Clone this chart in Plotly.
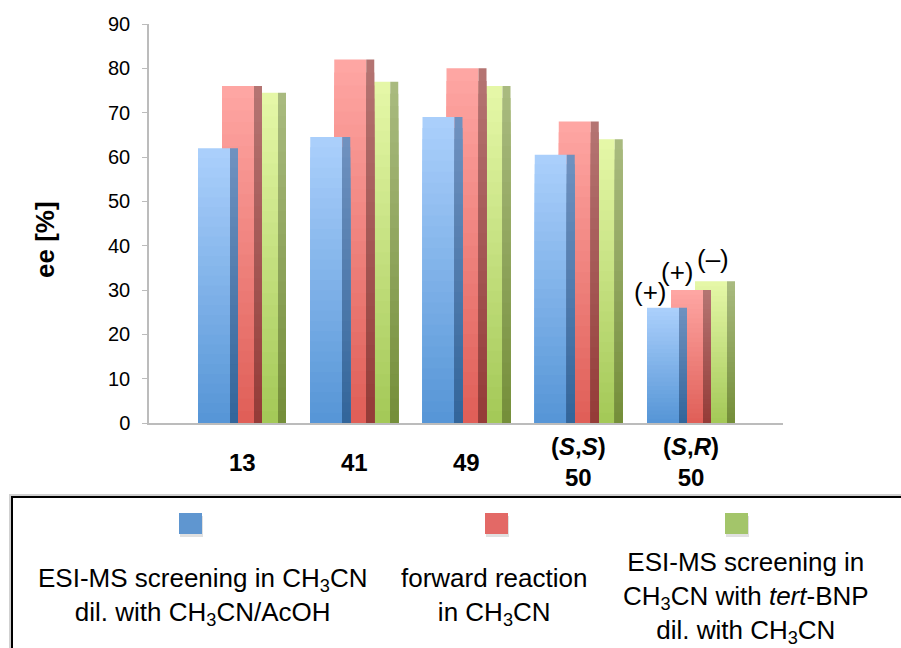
import plotly.graph_objects as go

# --- data -------------------------------------------------------------
categories = ["13", "41", "49", "(S,S) 50", "(S,R) 50"]
category_labels = [
    "<b>13</b>",
    "<b>41</b>",
    "<b>49</b>",
    "<b>(<i>S</i>,<i>S</i>)</b><br><b>50</b>",
    "<b>(<i>S</i>,<i>R</i>)</b><br><b>50</b>",
]
esi_acoh = [62, 64.5, 69, 60.5, 26]
forward = [76, 82, 80, 68, 30]
esi_bnp = [74.5, 77, 76, 64, 32]
sign_labels = ["(+)", "(+)", "(–)"]

series_names = [
    "ESI-MS screening in CH<sub>3</sub>CN<br>dil. with CH<sub>3</sub>CN/AcOH",
    "forward reaction<br>in CH<sub>3</sub>CN",
    "ESI-MS screening in<br>CH<sub>3</sub>CN with <i>tert</i>-BNP<br>dil. with CH<sub>3</sub>CN",
]
series_values = [esi_acoh, forward, esi_bnp]

# --- styling ----------------------------------------------------------
W, H = 901, 648
L, R, T, B = 149, 118, 24, 225
PX_PER_CAT = 112.25          # pixels between category centres
FONT = "Liberation Sans, Arial, sans-serif"

# (front top, front bottom, side top, side bottom)
face_colors = [
    ("#acd0fc", "#5595d6", "#7092c0", "#32659a"),
    ("#ffa7a4", "#df5e57", "#b57573", "#943b37"),
    ("#e6f8a8", "#a3c857", "#aabb80", "#748e39"),
]
legend_colors = ["#5f96d0", "#e36966", "#a3c56a"]
front_px, side_px = 32, 8
series_left_px = [-44, -20, 4]   # left edge of each front face relative to centre
N_STEPS = 28


def hex2rgb(h):
    h = h.lstrip("#")
    return [int(h[i:i + 2], 16) for i in (0, 2, 4)]


def lerp(c1, c2, t):
    a, b = hex2rgb(c1), hex2rgb(c2)
    return "rgb({},{},{})".format(*[round(a[i] + (b[i] - a[i]) * t) for i in range(3)])


def px2x(px):
    return (px - L) / (W - L - R)


def py2y(py):
    return (H - B - py) / (H - T - B)


x_idx = list(range(len(categories)))
fig = go.Figure()

# draw back-to-front: green, red, blue; each face as stacked gradient bands
for s in (2, 1, 0):
    vals = series_values[s]
    ftop, fbot, stop, sbot = face_colors[s]
    faces = [
        (series_left_px[s], front_px, ftop, fbot),
        (series_left_px[s] + front_px, side_px, stop, sbot),
    ]
    for left, width, ctop, cbot in faces:
        for k in range(N_STEPS):
            frac = 1 - k / N_STEPS
            fig.add_trace(go.Bar(
                x=x_idx,
                y=[v * frac for v in vals],
                offset=left / PX_PER_CAT,
                width=width / PX_PER_CAT,
                marker=dict(color=lerp(ctop, cbot, (k + 0.5) / N_STEPS), line=dict(width=0)),
                showlegend=False,
                hoverinfo="skip",
            ))

annotations = []

# category labels under the axis
for i, lab in enumerate(category_labels):
    annotations.append(dict(
        x=i, y=py2y(462), xref="x", yref="paper", text=lab, showarrow=False,
        xanchor="center", yanchor="middle", align="center",
        font=dict(family=FONT, size=24, color="black"),
    ))

# sign of the ee for the (S,R) diastereomer
last = len(categories) - 1
sign_xshift = [-13, -10, 2]
sign_yshift = [0, 2, 6]
for s, txt in enumerate(sign_labels):
    cx = last + (series_left_px[s] + front_px / 2) / PX_PER_CAT
    annotations.append(dict(
        x=cx, y=series_values[s][last], xref="x", yref="y", text=txt, showarrow=False,
        xanchor="center", yanchor="bottom", xshift=sign_xshift[s], yshift=sign_yshift[s],
        borderpad=0, font=dict(family=FONT, size=26, color="black"),
    ))

# y-axis title
annotations.append(dict(
    x=px2x(45), y=py2y(240), xref="paper", yref="paper", text="<b>ee [%]</b>",
    showarrow=False, textangle=-90, xanchor="center", yanchor="middle",
    font=dict(family=FONT, size=26, color="black"),
))

# legend block
shapes = [
    dict(type="rect", xref="paper", yref="paper",
         x0=px2x(10), x1=px2x(910), y0=py2y(495), y1=py2y(660),
         line=dict(color="rgba(0,0,0,0.18)", width=2), fillcolor="rgba(0,0,0,0)"),
    dict(type="rect", xref="paper", yref="paper",
         x0=px2x(12), x1=px2x(910), y0=py2y(497), y1=py2y(660),
         line=dict(color="black", width=2), fillcolor="rgba(0,0,0,0)"),
]
square_px = [179, 485, 725]
text_cx = [202, 494, 746]
text_cy = [596, 596, 597]
for s in range(3):
    x0 = square_px[s]
    shapes.append(dict(type="rect", xref="paper", yref="paper",
                       x0=px2x(x0 + 1), x1=px2x(x0 + 24), y0=py2y(516), y1=py2y(537),
                       line=dict(width=0), fillcolor="rgba(0,0,0,0.12)"))
    shapes.append(dict(type="rect", xref="paper", yref="paper",
                       x0=px2x(x0), x1=px2x(x0 + 23), y0=py2y(513), y1=py2y(534),
                       line=dict(width=0), fillcolor=legend_colors[s]))
    annotations.append(dict(
        x=px2x(text_cx[s]), y=py2y(text_cy[s]), xref="paper", yref="paper",
        text=series_names[s], showarrow=False, xanchor="center", yanchor="middle",
        align="center", font=dict(family=FONT, size=26, color="black"),
    ))

fig.update_layout(
    width=W, height=H,
    margin=dict(l=L, r=R, t=T, b=B),
    paper_bgcolor="white", plot_bgcolor="white",
    barmode="overlay",
    showlegend=False,
    font=dict(family=FONT, color="black"),
    xaxis=dict(
        range=[(L - 242) / PX_PER_CAT, (W - R - 242) / PX_PER_CAT],
        showticklabels=False, ticks="", showgrid=False, zeroline=False,
        showline=True, linecolor="#bcbcbc", linewidth=1.5,
    ),
    yaxis=dict(
        range=[0, 90], dtick=10, ticks="outside", ticklen=5, tickcolor="#bcbcbc",
        showline=True, linecolor="#bcbcbc", linewidth=1.5, showgrid=False,
        zeroline=False, tickfont=dict(family=FONT, size=20, color="black"),
        ticklabelstandoff=8,
    ),
    annotations=annotations,
    shapes=shapes,
)

fig.write_html("out.html")
